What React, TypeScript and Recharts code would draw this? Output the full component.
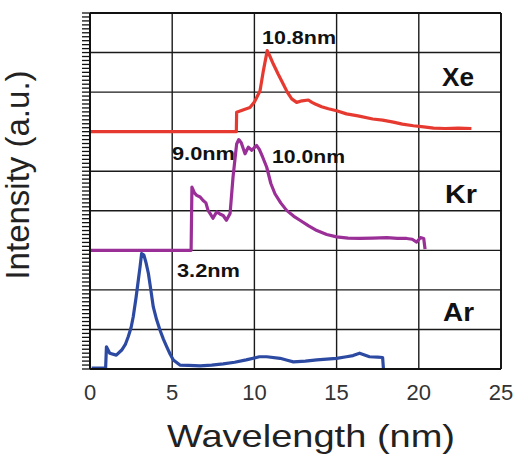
import React from "react";
import { ComposedChart, Line, XAxis, YAxis, CartesianGrid, Customized } from "recharts";

// ---- tick labels / grid ----
const X_TICKS = [0, 5, 10, 15, 20, 25];
const Y_GRID = [0, 1, 2, 3, 4, 5, 6, 7, 8, 9];
const Y_MINOR = Array.from({ length: 91 }, (_, i) => i / 10);

// ---- series (wavelength nm, intensity a.u. relative to its own baseline) ----
const XE_OFFSET = 6;
const XE_WL = [0, 8.9, 8.92, 9.3, 9.73, 10.0, 10.34, 10.55, 10.78, 10.95, 11.15, 11.45, 11.76, 12.0, 12.27, 12.57, 12.9, 13.28, 13.5, 13.7, 14.09, 14.5, 15.0, 15.6, 16.3, 17.2, 17.8, 18.45, 19.0, 19.67, 20.3, 20.9, 21.6, 22.4, 23.2];
const XE_INT = [0, 0, 0.49, 0.55, 0.61, 0.75, 1.03, 1.55, 2.05, 1.9, 1.71, 1.45, 1.2, 1.0, 0.83, 0.74, 0.78, 0.8, 0.74, 0.7, 0.63, 0.58, 0.53, 0.45, 0.4, 0.32, 0.29, 0.24, 0.19, 0.15, 0.12, 0.09, 0.08, 0.09, 0.08];

const KR_OFFSET = 3;
const KR_WL = [0, 6.15, 6.2, 6.35, 6.49, 6.7, 6.88, 7.05, 7.18, 7.35, 7.48, 7.7, 7.9, 8.1, 8.3, 8.52, 8.7, 8.92, 9.05, 9.2, 9.43, 9.63, 9.84, 10.0, 10.14, 10.3, 10.5, 10.75, 11.0, 11.25, 11.6, 11.96, 12.4, 12.77, 13.3, 13.8, 14.4, 15.0, 15.7, 16.4, 17.2, 18.05, 18.7, 19.26, 19.6, 19.87, 20.1, 20.3, 20.38];
const KR_INT = [0, 0, 1.6, 1.45, 1.39, 1.35, 1.26, 1.2, 1.01, 0.9, 0.81, 0.97, 0.92, 0.88, 0.76, 0.93, 1.85, 2.69, 2.8, 2.72, 2.44, 2.61, 2.53, 2.6, 2.65, 2.55, 2.36, 2.1, 1.69, 1.43, 1.2, 1.01, 0.86, 0.76, 0.62, 0.5, 0.4, 0.34, 0.31, 0.3, 0.31, 0.32, 0.3, 0.3, 0.28, 0.21, 0.32, 0.3, 0.03];

const AR_OFFSET = 0;
const AR_WL = [0.1, 0.95, 1.0, 1.2, 1.6, 1.93, 2.15, 2.33, 2.5, 2.63, 2.8, 2.94, 3.05, 3.14, 3.28, 3.4, 3.55, 3.7, 3.85, 4.05, 4.26, 4.47, 4.67, 4.87, 5.07, 5.47, 6.0, 6.7, 7.4, 8.1, 8.8, 9.5, 10.3, 10.75, 11.56, 12.0, 12.37, 13.1, 13.8, 14.4, 15.0, 15.6, 16.0, 16.4, 17.0, 17.5, 17.8, 17.85];
const AR_INT = [0.02, 0.02, 0.56, 0.4, 0.35, 0.48, 0.62, 0.82, 1.05, 1.32, 1.8, 2.25, 2.6, 2.92, 2.88, 2.7, 2.42, 2.0, 1.57, 1.25, 0.98, 0.75, 0.56, 0.38, 0.23, 0.1, 0.09, 0.08, 0.1, 0.13, 0.17, 0.23, 0.31, 0.31, 0.27, 0.22, 0.18, 0.2, 0.23, 0.25, 0.27, 0.31, 0.34, 0.4, 0.31, 0.3, 0.29, 0.0];

const X_MAX = 25;
const Y_MAX = 9;

const build = (wl: number[], val: number[], off: number) =>
  wl.map((x, i) => ({ x, y: val[i] + off }));

const xeData = build(XE_WL, XE_INT, XE_OFFSET);
const krData = build(KR_WL, KR_INT, KR_OFFSET);
const arData = build(AR_WL, AR_INT, AR_OFFSET);

// ---- layout ----
const W = 516;
const H = 460;
const M_TOP = 13;
const M_RIGHT = 15;
const Y_AXIS_W = 90;
const X_AXIS_H = 91;
const PLOT_L = Y_AXIS_W;
const PLOT_R = W - M_RIGHT;
const PLOT_T = M_TOP;
const PLOT_B = H - X_AXIS_H;

const FONT = "'Liberation Sans', Arial, Helvetica, sans-serif";

const renderXTick = (props: any) => (
  <text x={props.x} y={400} textAnchor="middle" fontFamily={FONT} fontSize={22} fill="#333">
    {props.payload.value}
  </text>
);

const renderEmptyTick = () => <g />;

// plot frame (top/right edges) and the minor ticks of the left axis
const Frame = () => (
  <g>
    <line x1={PLOT_L} x2={PLOT_R} y1={PLOT_T} y2={PLOT_T} stroke="#111" strokeWidth={1.8} />
    <line x1={PLOT_R} x2={PLOT_R} y1={PLOT_T} y2={PLOT_B} stroke="#111" strokeWidth={1.8} />
    {Y_MINOR.map((v) => {
      const y = PLOT_B - (v / Y_MAX) * (PLOT_B - PLOT_T);
      return <line key={v} x1={PLOT_L - 8} x2={PLOT_L} y1={y} y2={y} stroke="#111" strokeWidth={1.3} />;
    })}
  </g>
);

const Annotations = () => (
  <g fontFamily={FONT} fontWeight="bold" fill="#111">
    <text x={262} y={44} fontSize={19} textLength={74} lengthAdjust="spacingAndGlyphs">10.8nm</text>
    <text x={442} y={86} fontSize={25} textLength={32} lengthAdjust="spacingAndGlyphs">Xe</text>
    <text x={172} y={160} fontSize={19} textLength={63} lengthAdjust="spacingAndGlyphs">9.0nm</text>
    <text x={272} y={163} fontSize={19} textLength={73} lengthAdjust="spacingAndGlyphs">10.0nm</text>
    <text x={445} y={203} fontSize={25} textLength={32} lengthAdjust="spacingAndGlyphs">Kr</text>
    <text x={177} y={277} fontSize={19} textLength={63} lengthAdjust="spacingAndGlyphs">3.2nm</text>
    <text x={443} y={321} fontSize={25} textLength={31} lengthAdjust="spacingAndGlyphs">Ar</text>
    <text x={167} y={447} fontSize={32} fontWeight="normal" fill="#222" textLength={288} lengthAdjust="spacingAndGlyphs">Wavelength (nm)</text>
    <text x={29} y={175} fontSize={33} fontWeight="normal" fill="#222" textAnchor="middle" transform="rotate(-90 29 175)">Intensity (a.u.)</text>
  </g>
);

export default function App() {
  return (
    <div style={{ position: "absolute", left: 0, top: 0 }}>
      <ComposedChart width={W} height={H} margin={{ top: M_TOP, right: M_RIGHT, bottom: 0, left: 0 }}>
        <CartesianGrid
          horizontalValues={Y_GRID}
          verticalValues={X_TICKS}
          stroke="#1a1a1a"
          strokeWidth={1.4}
        />
        <XAxis
          type="number"
          dataKey="x"
          domain={[0, X_MAX]}
          ticks={X_TICKS}
          interval={0}
          height={X_AXIS_H}
          tickLine={false}
          axisLine={{ stroke: "#111", strokeWidth: 2 }}
          tick={renderXTick}
        />
        <YAxis
          type="number"
          dataKey="y"
          domain={[0, Y_MAX]}
          ticks={Y_GRID}
          interval={0}
          width={Y_AXIS_W}
          tickLine={false}
          axisLine={{ stroke: "#111", strokeWidth: 2 }}
          tick={renderEmptyTick}
        />
        <Line data={arData} dataKey="y" type="linear" stroke="#2d4aa3" strokeWidth={3.2} dot={false} isAnimationActive={false} strokeLinejoin="round" />
        <Line data={krData} dataKey="y" type="linear" stroke="#9a2f97" strokeWidth={3.2} dot={false} isAnimationActive={false} strokeLinejoin="round" />
        <Line data={xeData} dataKey="y" type="linear" stroke="#e63a30" strokeWidth={3.2} dot={false} isAnimationActive={false} strokeLinejoin="round" />
        <Customized component={Frame} />
        <Customized component={Annotations} />
      </ComposedChart>
    </div>
  );
}
